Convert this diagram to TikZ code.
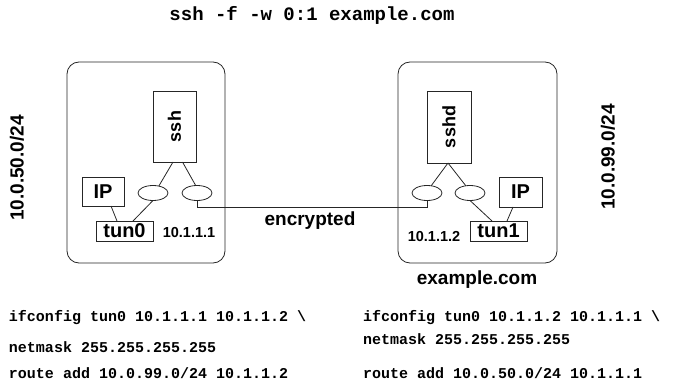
\documentclass[tikz,border=0pt]{standalone}
\usepackage{fontspec}
\setmainfont{Liberation Sans}
\newfontfamily\codefont{Liberation Mono}
\usetikzlibrary{shapes.geometric}
\begin{document}
\begin{tikzpicture}[x=1pt,y=-1pt,
  every node/.style={inner sep=0pt, outer sep=0pt},
  ln/.style={line width=0.8pt, draw=black!85},
  hostbox/.style={ln, draw, rounded corners=12pt, minimum width=158pt, minimum height=201pt},
  procbox/.style={ln, draw, font=\fontsize{18}{18}\selectfont\bfseries},
  smallbox/.style={ln, draw, font=\fontsize{20}{20}\selectfont\bfseries},
  port/.style={ln, draw, ellipse, minimum width=30pt, minimum height=15pt},
  biglbl/.style={font=\fontsize{19}{19}\selectfont\bfseries},
  addr/.style={font=\fontsize{14.5}{14.5}\selectfont\bfseries},
  code/.style={font=\codefont\fontsize{15}{15}\selectfont\bfseries, anchor=west},
]
\useasboundingbox (0,0) rectangle (679,382);

% title
\node[font=\codefont\fontsize{19}{19}\selectfont\bfseries] (title) at (312,15) {ssh -f -w 0:1 example.com};

% left host
\node[hostbox] (lhost) at (146,162.5) {};
\node[procbox, minimum width=43pt, minimum height=71pt] (ssh) at (174.5,126.5) {\rotatebox{90}{ssh}};
\node[smallbox, minimum width=42pt, minimum height=29pt] (ip1) at (103,191.5) {IP};
\node[smallbox, minimum width=57pt, minimum height=20pt] (tun0) at (124.5,231) {tun0};
\node[port] (e1) at (153,193) {};
\node[port] (e2) at (197,193) {};
\node[addr] (a1) at (189,233) {10.1.1.1};
\node[biglbl, rotate=90] (net1) at (17,168) {10.0.50.0/24};

% right host
\node[hostbox, minimum width=159pt] (rhost) at (477.5,162.5) {};
\node[procbox, minimum width=44pt, minimum height=72pt] (sshd) at (449,127) {\rotatebox{90}{sshd}};
\node[port] (e3) at (427,193) {};
\node[port] (e4) at (470,193) {};
\node[smallbox, minimum width=43pt, minimum height=30pt] (ip2) at (520.5,192) {IP};
\node[smallbox, minimum width=57pt, minimum height=20pt] (tun1) at (498.5,231) {tun1};
\node[addr] (a2) at (434,237) {10.1.1.2};
\node[biglbl, rotate=90] (net2) at (608,157) {10.0.99.0/24};
\node[biglbl] (host) at (477,280) {example.com};

\node[biglbl] (enc) at (310,221) {encrypted};

% connectors left
\draw[ln] ([xshift=-1.5pt]ssh.south) -- (e1.50);
\draw[ln] ([xshift=8pt]ssh.south) -- (e2.100);
\draw[ln] (e1.south) -- ([xshift=8.5pt]tun0.north);
\draw[ln] ([xshift=8pt]ip1.south) -- ([xshift=-7.5pt]tun0.north);
% connectors right
\draw[ln] ([xshift=-1pt]sshd.south) -- (e3.60);
\draw[ln] ([xshift=-1pt]sshd.south) -- (e4.120);
\draw[ln] (e4.south) -- ([xshift=-6.5pt]tun1.north);
\draw[ln] ([xshift=-7.5pt]ip2.south) -- ([xshift=8.5pt]tun1.north);
% encrypted link
\draw[ln] (e2.south) -- ++(0,6.5) -| (e3.south);

% code
\node[code] (c1) at (9,318) {ifconfig tun0 10.1.1.1 10.1.1.2 \textbackslash};
\node[code] (c2) at (9,347) {netmask 255.255.255.255};
\node[code] (c3) at (9,373.5) {route add 10.0.99.0/24 10.1.1.2};
\node[code] (c4) at (363,318) {ifconfig tun0 10.1.1.2 10.1.1.1 \textbackslash};
\node[code] (c5) at (363,339) {netmask 255.255.255.255};
\node[code] (c6) at (363,373.5) {route add 10.0.50.0/24 10.1.1.1};
\end{tikzpicture}
\end{document}
